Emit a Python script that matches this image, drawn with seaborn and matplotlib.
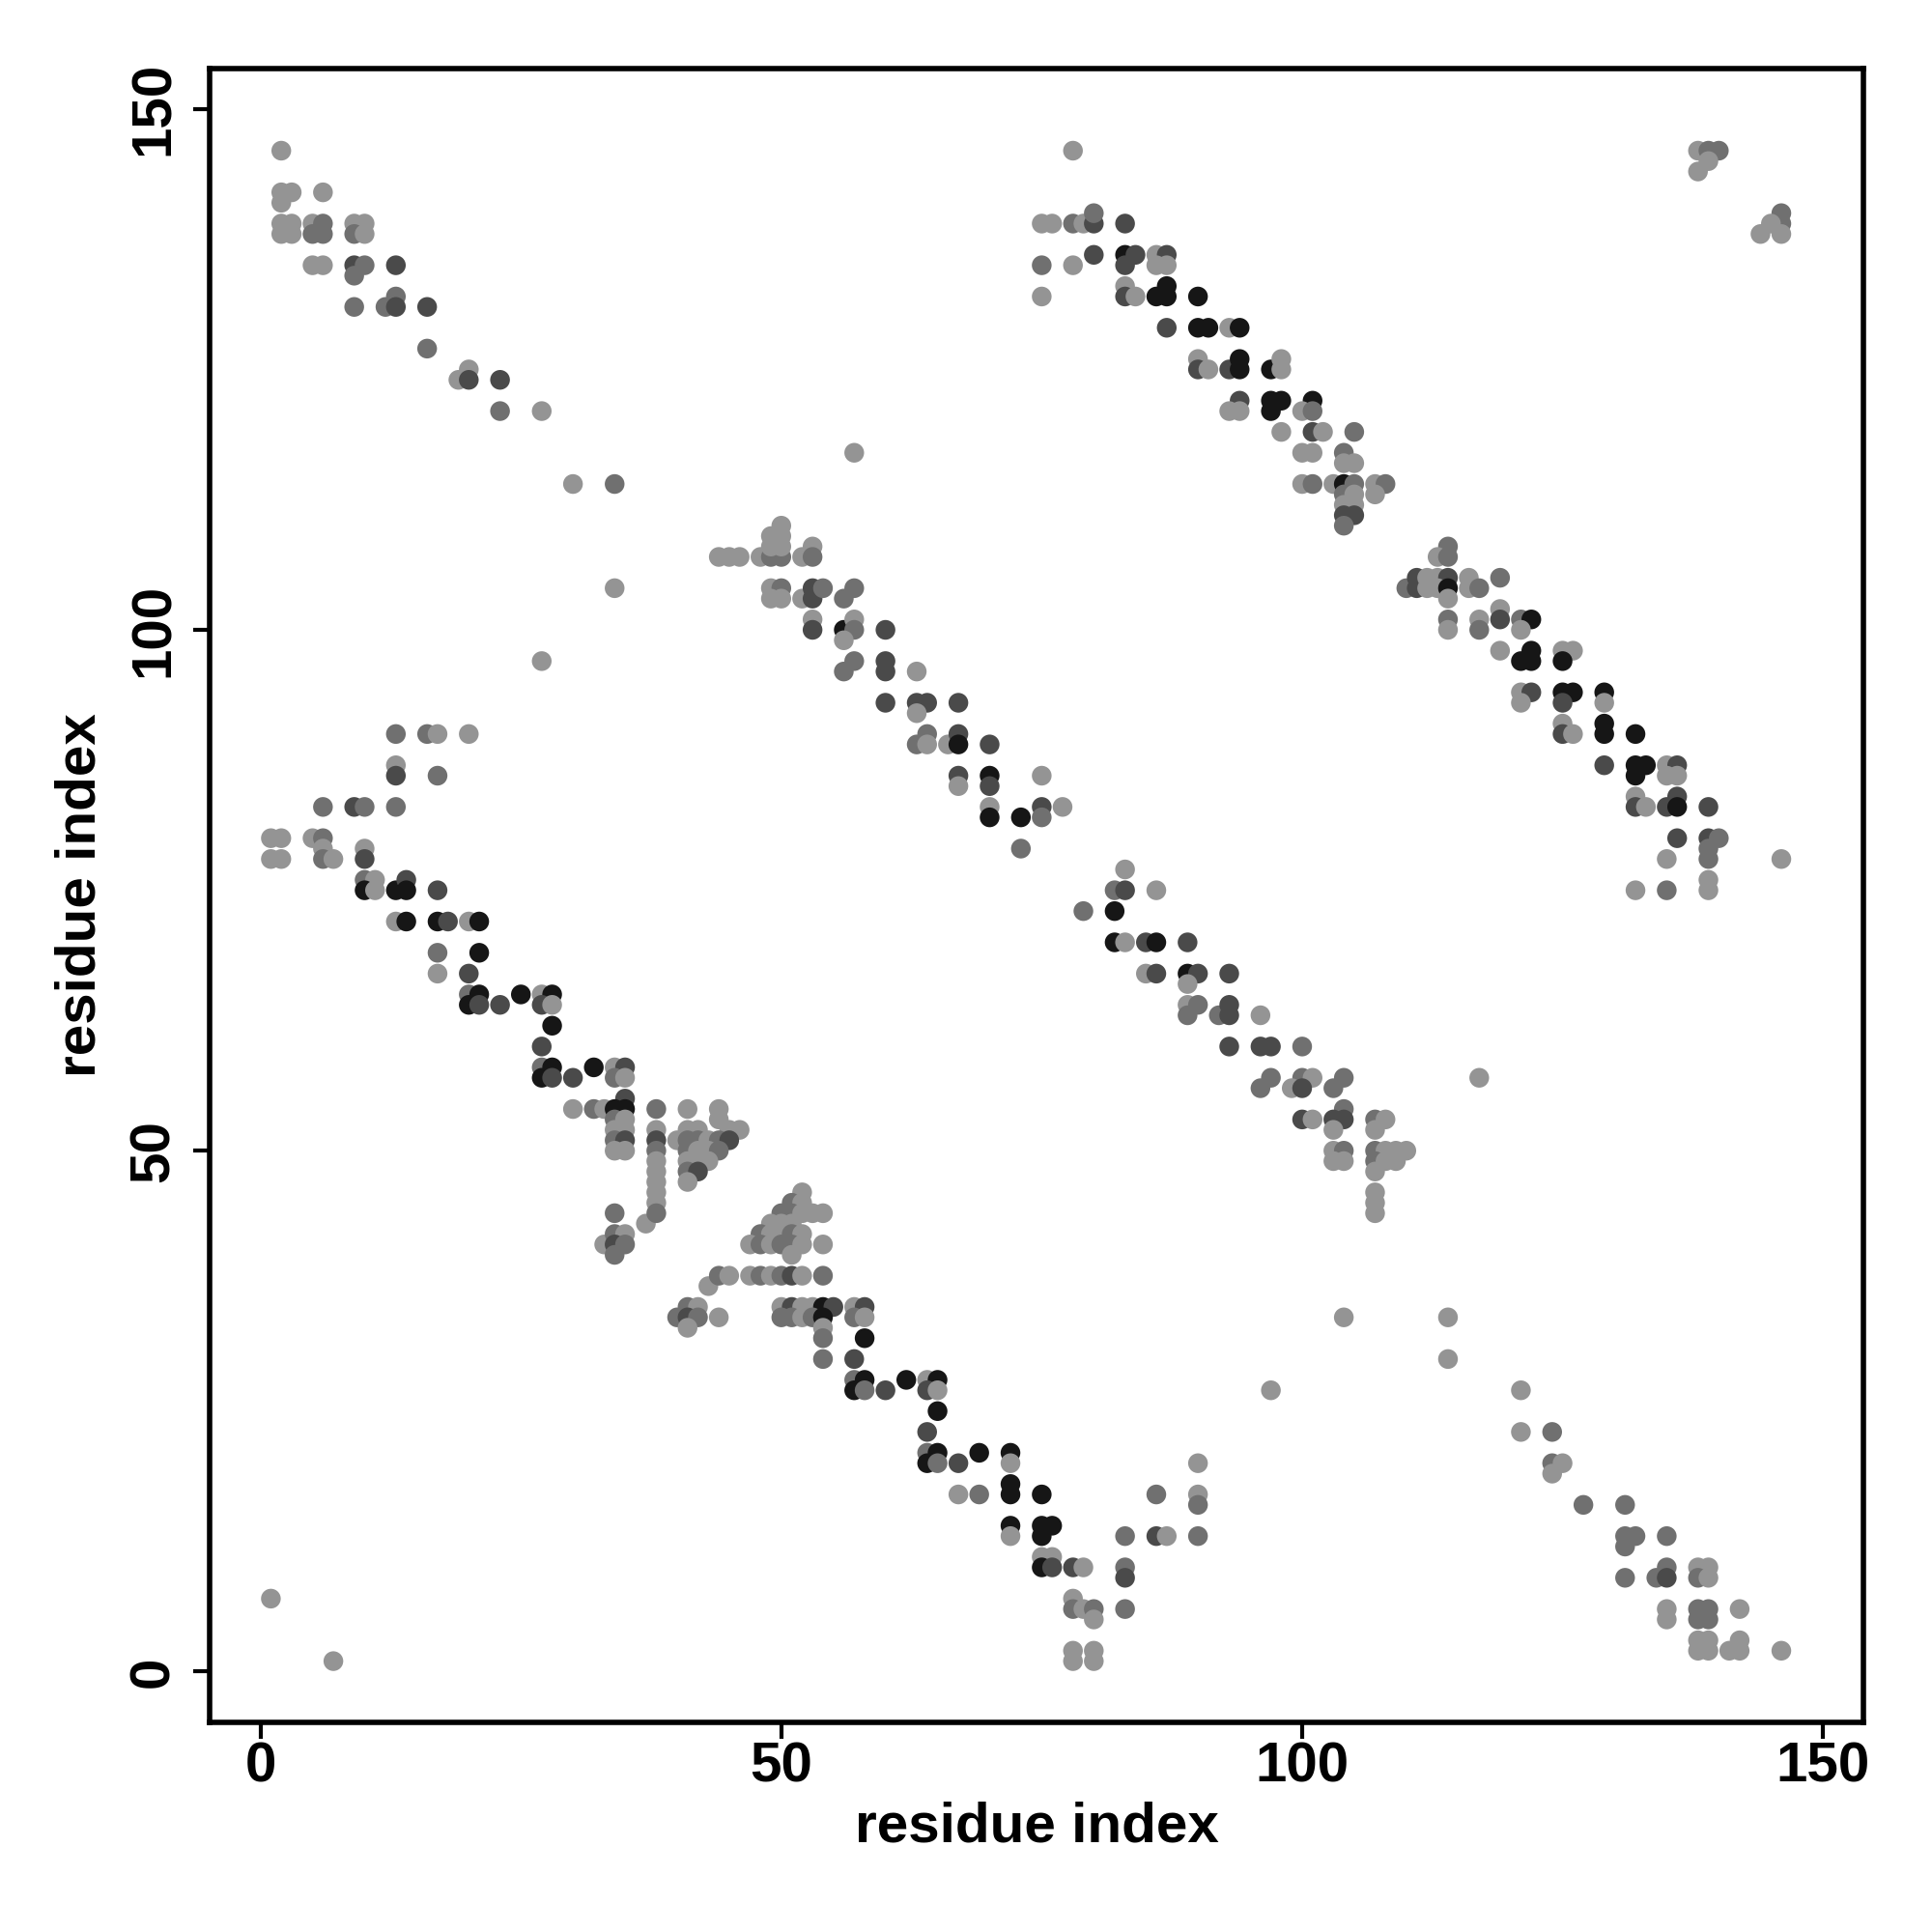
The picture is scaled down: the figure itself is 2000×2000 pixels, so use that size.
import matplotlib
matplotlib.use("Agg")
import matplotlib.pyplot as plt
import pandas as pd
import seaborn as sns

# contact map: residue i, residue j, shade level (1 light .. 4 black)
res_i = [
    2, 2, 3, 2, 6, 2, 3, 2, 3, 5, 6, 5, 6, 9, 10, 9, 10, 5, 6, 9, 10, 9, 13,
    9, 12, 13, 13, 16, 16, 19, 20, 20, 23, 23, 27, 30, 34, 34, 27,
    57, 44, 45, 46, 48, 49, 50, 49, 50, 50, 49, 50, 52, 53, 53,
    49, 50, 49, 50, 52, 53, 53, 54, 56, 57, 53, 53, 56, 57, 57, 56, 60,
    57, 60, 56, 63,
    60, 60, 63, 64, 63, 67, 64, 63, 64, 66, 67, 67, 70, 67, 67, 70, 70,
    70, 70, 73, 73,
    78, 75, 76, 78, 79, 80, 80, 83,
    75, 78, 80, 83, 84, 83, 86, 87, 86, 87,
    75, 83, 83, 84, 86, 87, 87, 90,
    87, 90, 91, 93, 94,
    90, 90, 91, 93, 94, 94, 97, 98, 98,
    94, 93, 94, 97, 98, 97, 101, 100, 101,
    98, 101, 102, 105, 100, 101, 104, 105, 104,
    100, 101, 103, 104, 105, 107, 108, 107,
    104, 105, 104, 105, 104, 105, 104,
    138, 139, 140, 139, 138, 146, 146, 145, 144, 146,
    114, 113, 114, 110, 111, 111,
    112, 113, 114, 116, 119, 112, 113, 114, 116, 117, 114,
    119, 119, 114, 114, 117, 117, 121, 122, 121,
    119, 121, 122, 122, 125, 126, 125,
    121, 122, 121, 125, 126, 125, 129, 129,
    125, 125, 126, 129, 129, 132,
    129, 132, 133, 132, 135, 136, 135, 136,
    132, 132, 133, 135, 136, 136, 139,
    136, 139, 140, 139, 139, 135, 146,
    139, 132, 135, 139, 117,
    13, 16, 17, 20, 13, 13, 17, 6, 9, 10, 13,
    1, 2, 5, 6, 1, 2, 6, 6, 7, 10, 10,
    10, 11, 10, 11, 13, 14, 14, 17,
    13, 14, 17, 18, 20, 21, 17, 21, 17, 20,
    20, 21, 20, 21, 23, 25, 27, 28, 27, 28, 28, 27,
    27, 28, 27, 28, 30, 32, 34, 35, 34, 35,
    35, 30, 32, 33, 34, 35, 34, 35, 34, 35, 34, 35, 34, 35,
    38, 38, 38, 38, 38, 38, 38, 38, 41, 44,
    41, 42, 44, 45, 46, 40, 41, 42, 43, 44, 45,
    41, 42, 43, 44, 41, 42, 43, 41, 42, 41,
    75, 75, 75, 77, 83, 82, 83, 86, 79, 82,
    82, 83, 85, 86, 89, 85, 86, 89, 90, 89, 93,
    89, 90, 89, 92, 93, 93, 96, 93, 96, 97, 100,
    97, 96, 100, 101, 99, 100, 104, 103,
    104, 100, 101, 103, 104, 103, 107, 108, 107,
    103, 104, 103, 104, 107, 108, 109, 110, 107, 108, 109,
    107, 107, 107, 107,
    34, 33, 34, 35, 34, 35, 34, 37, 1, 7,
    38, 38, 52, 51, 52, 50, 51, 52, 53, 54, 49, 50, 51,
    48, 49, 50, 51, 52, 47, 48, 49, 50, 51, 52, 54, 51,
    43, 44, 45, 47, 48, 49, 50, 51, 52, 54,
    41, 42, 40, 41, 42, 44, 41,
    50, 51, 52, 53, 54, 55, 50, 51, 52, 53, 54,
    57, 58, 57, 58, 54, 54, 54, 58, 57,
    57, 58, 57, 58, 60, 62, 64, 65, 64, 65,
    65, 64, 64, 65, 64, 65, 67, 69, 72, 72,
    72, 72, 67, 69, 72, 72,
    104, 97, 75, 90, 86, 90, 90,
    75, 76, 75, 83, 86, 87, 90,
    75, 76, 75, 76, 78, 79, 83, 83,
    78, 78, 79, 80, 80, 83, 78, 80, 78, 80,
    114, 114, 121, 121, 124, 124, 125, 124, 127, 131,
    131, 132, 131, 135, 135, 134, 135, 131, 138, 139, 138, 139,
    135, 135, 138, 139, 138, 139, 142,
    138, 139, 138, 139, 142, 141, 142, 146,
]
res_j = [
    146, 142, 142, 141, 142, 139, 139, 138, 138, 139, 139, 138, 138, 139, 139, 138, 138, 135, 135, 135, 135, 134, 135,
    131, 131, 132, 131, 131, 127, 124, 125, 124, 124, 121, 121, 114, 114, 104, 97,
    117, 107, 107, 107, 107, 107, 107, 109, 110, 109, 108, 108, 107, 108, 107,
    104, 104, 103, 103, 103, 104, 103, 104, 103, 104, 101, 100, 100, 101, 100, 99, 100,
    97, 97, 96, 96,
    96, 93, 93, 93, 92, 93, 90, 89, 89, 89, 90, 89, 89, 86, 85, 86, 85,
    83, 82, 82, 79,
    146, 139, 139, 139, 139, 139, 140, 139,
    135, 135, 136, 136, 136, 135, 136, 136, 135, 135,
    132, 133, 132, 132, 132, 133, 132, 132,
    129, 129, 129, 129, 129,
    126, 125, 125, 125, 126, 125, 125, 126, 125,
    122, 121, 121, 122, 122, 121, 122, 121, 121,
    119, 119, 119, 119, 117, 117, 117, 116, 116,
    114, 114, 114, 114, 114, 114, 114, 113,
    113, 113, 112, 112, 111, 111, 110,
    146, 146, 146, 145, 144, 140, 139, 139, 138, 138,
    108, 107, 107, 104, 105, 104,
    105, 105, 105, 105, 105, 104, 104, 104, 104, 104, 103,
    102, 101, 101, 100, 101, 100, 101, 101, 100,
    98, 97, 98, 97, 98, 98, 97,
    94, 94, 93, 94, 94, 93, 94, 93,
    91, 90, 90, 91, 90, 90,
    87, 87, 87, 86, 87, 87, 86, 86,
    84, 83, 83, 83, 84, 83, 83,
    80, 80, 80, 79, 78, 78, 78,
    76, 75, 75, 75, 57,
    90, 90, 90, 90, 87, 86, 86, 83, 83, 83, 83,
    80, 80, 80, 80, 78, 78, 79, 78, 78, 79, 78,
    76, 76, 75, 75, 75, 76, 75, 75,
    72, 72, 72, 72, 72, 72, 69, 69, 67, 67,
    65, 65, 64, 64, 64, 65, 65, 65, 64, 64, 62, 60,
    58, 58, 57, 57, 57, 58, 58, 58, 57, 57,
    55, 54, 54, 54, 54, 54, 53, 53, 52, 52, 51, 51, 50, 50,
    54, 52, 51, 50, 49, 48, 47, 46, 54, 54,
    52, 52, 53, 52, 52, 51, 51, 51, 51, 51, 51,
    50, 50, 50, 50, 49, 49, 49, 48, 48, 47,
    86, 83, 82, 83, 77, 75, 75, 75, 73, 73,
    70, 70, 70, 70, 70, 67, 67, 67, 67, 66, 67,
    64, 64, 63, 63, 64, 63, 63, 60, 60, 60, 60,
    57, 56, 57, 57, 56, 56, 57, 56,
    54, 53, 53, 53, 53, 52, 53, 53, 52,
    50, 50, 49, 49, 50, 50, 50, 50, 49, 49, 49,
    48, 46, 45, 44,
    44, 41, 42, 42, 41, 41, 40, 43, 7, 1,
    45, 44, 46, 45, 45, 44, 44, 44, 44, 44, 43, 43, 43,
    42, 42, 42, 42, 42, 41, 41, 41, 41, 41, 41, 41, 40,
    37, 38, 38, 38, 38, 38, 38, 38, 38, 38,
    35, 35, 34, 34, 34, 34, 33,
    35, 35, 35, 35, 35, 35, 34, 34, 34, 34, 34,
    35, 35, 34, 34, 33, 32, 30, 32, 30,
    28, 28, 27, 27, 27, 28, 28, 28, 27, 27,
    25, 23, 21, 21, 20, 20, 20, 21, 21, 20,
    18, 17, 17, 17, 14, 13,
    34, 27, 17, 20, 17, 17, 16,
    14, 14, 13, 13, 13, 13, 13,
    11, 11, 10, 10, 10, 10, 10, 9,
    7, 6, 6, 6, 5, 6, 2, 2, 1, 1,
    34, 30, 27, 23, 23, 20, 20, 19, 16, 16,
    13, 13, 12, 13, 10, 9, 9, 9, 10, 10, 9, 9,
    6, 5, 6, 6, 5, 5, 6,
    3, 3, 2, 2, 3, 2, 2, 2,
]
shade = [
    1, 1, 1, 1, 1, 1, 1, 1, 1, 1, 2, 2, 2, 1, 1, 2, 1, 1, 1, 3, 2, 2, 3,
    2, 2, 2, 3, 3, 2, 1, 1, 3, 3, 2, 1, 1, 2, 1, 1,
    1, 1, 1, 1, 1, 2, 2, 1, 1, 1, 1, 1, 1, 1, 2,
    1, 2, 1, 1, 1, 3, 3, 2, 2, 2, 1, 3, 4, 1, 2, 1, 3,
    2, 3, 2, 1,
    3, 3, 3, 3, 1, 3, 2, 2, 1, 1, 3, 4, 3, 3, 1, 4, 3,
    1, 4, 4, 2,
    1, 1, 1, 2, 1, 3, 2, 3,
    2, 1, 3, 4, 3, 3, 1, 3, 1, 1,
    1, 1, 3, 1, 4, 4, 4, 4,
    3, 4, 4, 1, 4,
    1, 3, 1, 3, 4, 4, 4, 1, 1,
    3, 1, 1, 4, 4, 4, 4, 1, 2,
    1, 3, 1, 2, 1, 1, 2, 1, 1,
    1, 2, 1, 4, 2, 1, 2, 1,
    2, 1, 1, 1, 3, 3, 2,
    1, 2, 2, 1, 1, 2, 2, 1, 1, 1,
    2, 1, 2, 2, 3, 3,
    1, 1, 3, 1, 2, 1, 1, 4, 1, 2, 1,
    1, 3, 2, 1, 1, 2, 2, 4, 1,
    1, 4, 4, 4, 1, 1, 4,
    1, 3, 1, 4, 4, 3, 4, 1,
    1, 3, 1, 4, 4, 4,
    3, 4, 4, 4, 1, 3, 1, 1,
    1, 3, 1, 3, 3, 4, 3,
    3, 3, 2, 2, 2, 1, 1,
    1, 1, 2, 1, 1,
    2, 2, 1, 1, 1, 3, 2, 2, 3, 2, 2,
    1, 1, 1, 2, 1, 1, 1, 2, 1, 1, 3,
    2, 1, 4, 1, 4, 3, 4, 3,
    1, 4, 4, 3, 1, 4, 2, 4, 1, 3,
    2, 4, 4, 3, 3, 4, 1, 4, 3, 1, 4, 3,
    2, 4, 4, 3, 3, 4, 1, 3, 2, 1,
    3, 1, 2, 1, 4, 4, 2, 1, 1, 1, 2, 3, 1, 1,
    2, 1, 3, 2, 1, 1, 1, 1, 1, 1,
    1, 1, 1, 1, 1, 1, 2, 2, 1, 2, 3,
    2, 1, 1, 2, 1, 1, 1, 2, 3, 1,
    1, 3, 2, 1, 1, 2, 3, 1, 2, 4,
    4, 1, 3, 4, 3, 1, 3, 4, 3, 1, 3,
    1, 2, 2, 2, 3, 3, 1, 3, 3, 3, 2,
    2, 2, 2, 1, 1, 3, 2, 2,
    2, 3, 1, 3, 3, 1, 2, 1, 1,
    1, 2, 1, 1, 2, 1, 1, 1, 2, 1, 1,
    1, 1, 1, 1,
    2, 1, 2, 1, 3, 2, 2, 1, 1, 1,
    1, 2, 1, 2, 1, 2, 2, 1, 1, 1, 1, 1, 1,
    2, 1, 1, 2, 1, 1, 2, 1, 2, 2, 1, 1, 1,
    1, 2, 1, 1, 2, 1, 2, 3, 1, 2,
    2, 1, 2, 3, 2, 1, 1,
    1, 3, 1, 1, 4, 3, 2, 2, 1, 2, 4,
    1, 3, 2, 1, 1, 2, 2, 4, 3,
    2, 4, 4, 2, 3, 4, 1, 4, 3, 1,
    4, 3, 2, 4, 4, 2, 3, 4, 4, 1,
    4, 4, 1, 2, 4, 1,
    1, 1, 4, 1, 2, 1, 2,
    4, 4, 4, 2, 3, 1, 2,
    1, 1, 4, 3, 3, 1, 2, 3,
    1, 2, 1, 2, 1, 2, 1, 1, 1, 1,
    1, 1, 1, 1, 2, 2, 1, 1, 2, 2,
    2, 2, 2, 2, 2, 2, 3, 2, 1, 1, 2, 1,
    1, 1, 2, 2, 2, 2, 1,
    1, 1, 1, 1, 1, 1, 1, 1,
]
grey_levels = {1: '#949494', 2: '#707070', 3: '#4a4a4a', 4: '#161616'}
ticks = [0, 50, 100, 150]

df = pd.DataFrame({'i': res_i, 'j': res_j, 'shade': shade})

sns.set_theme(style="white")
plt.rcParams['font.family'] = ['Liberation Sans', 'DejaVu Sans']
plt.rcParams['text.color'] = 'black'
plt.rcParams['axes.labelcolor'] = 'black'
plt.rcParams['xtick.color'] = 'black'
plt.rcParams['ytick.color'] = 'black'

fig = plt.figure(figsize=(10, 10), dpi=200)
ax = fig.add_axes([0.1085, 0.1085, 0.856, 0.856])

sns.scatterplot(data=df, x='i', y='j', hue='shade', palette=grey_levels,
                s=54, linewidth=0, legend=False, ax=ax)

ax.set_xlim(-4.88, 153.88)
ax.set_ylim(-4.88, 153.88)
ax.set_xticks(ticks)
ax.set_yticks(ticks)
ax.set_xticklabels([str(t) for t in ticks], fontsize=21, fontweight='bold')
ax.set_yticklabels([str(t) for t in ticks], fontsize=21, fontweight='bold',
                   rotation=90, va='center')

ax.tick_params(axis='both', direction='out', length=6, width=1.5,
               color='black', labelcolor='black', bottom=True, left=True)
ax.tick_params(axis='x', pad=1)
ax.tick_params(axis='y', pad=5)

for sp in ax.spines.values():
    sp.set_visible(True)
    sp.set_color('black')
    sp.set_linewidth(2)

ax.set_xlabel('residue index', fontsize=21, fontweight='bold', labelpad=3)
ax.set_ylabel('residue index', fontsize=21, fontweight='bold', labelpad=8)

fig.savefig('out.png', dpi=200, facecolor='white')
